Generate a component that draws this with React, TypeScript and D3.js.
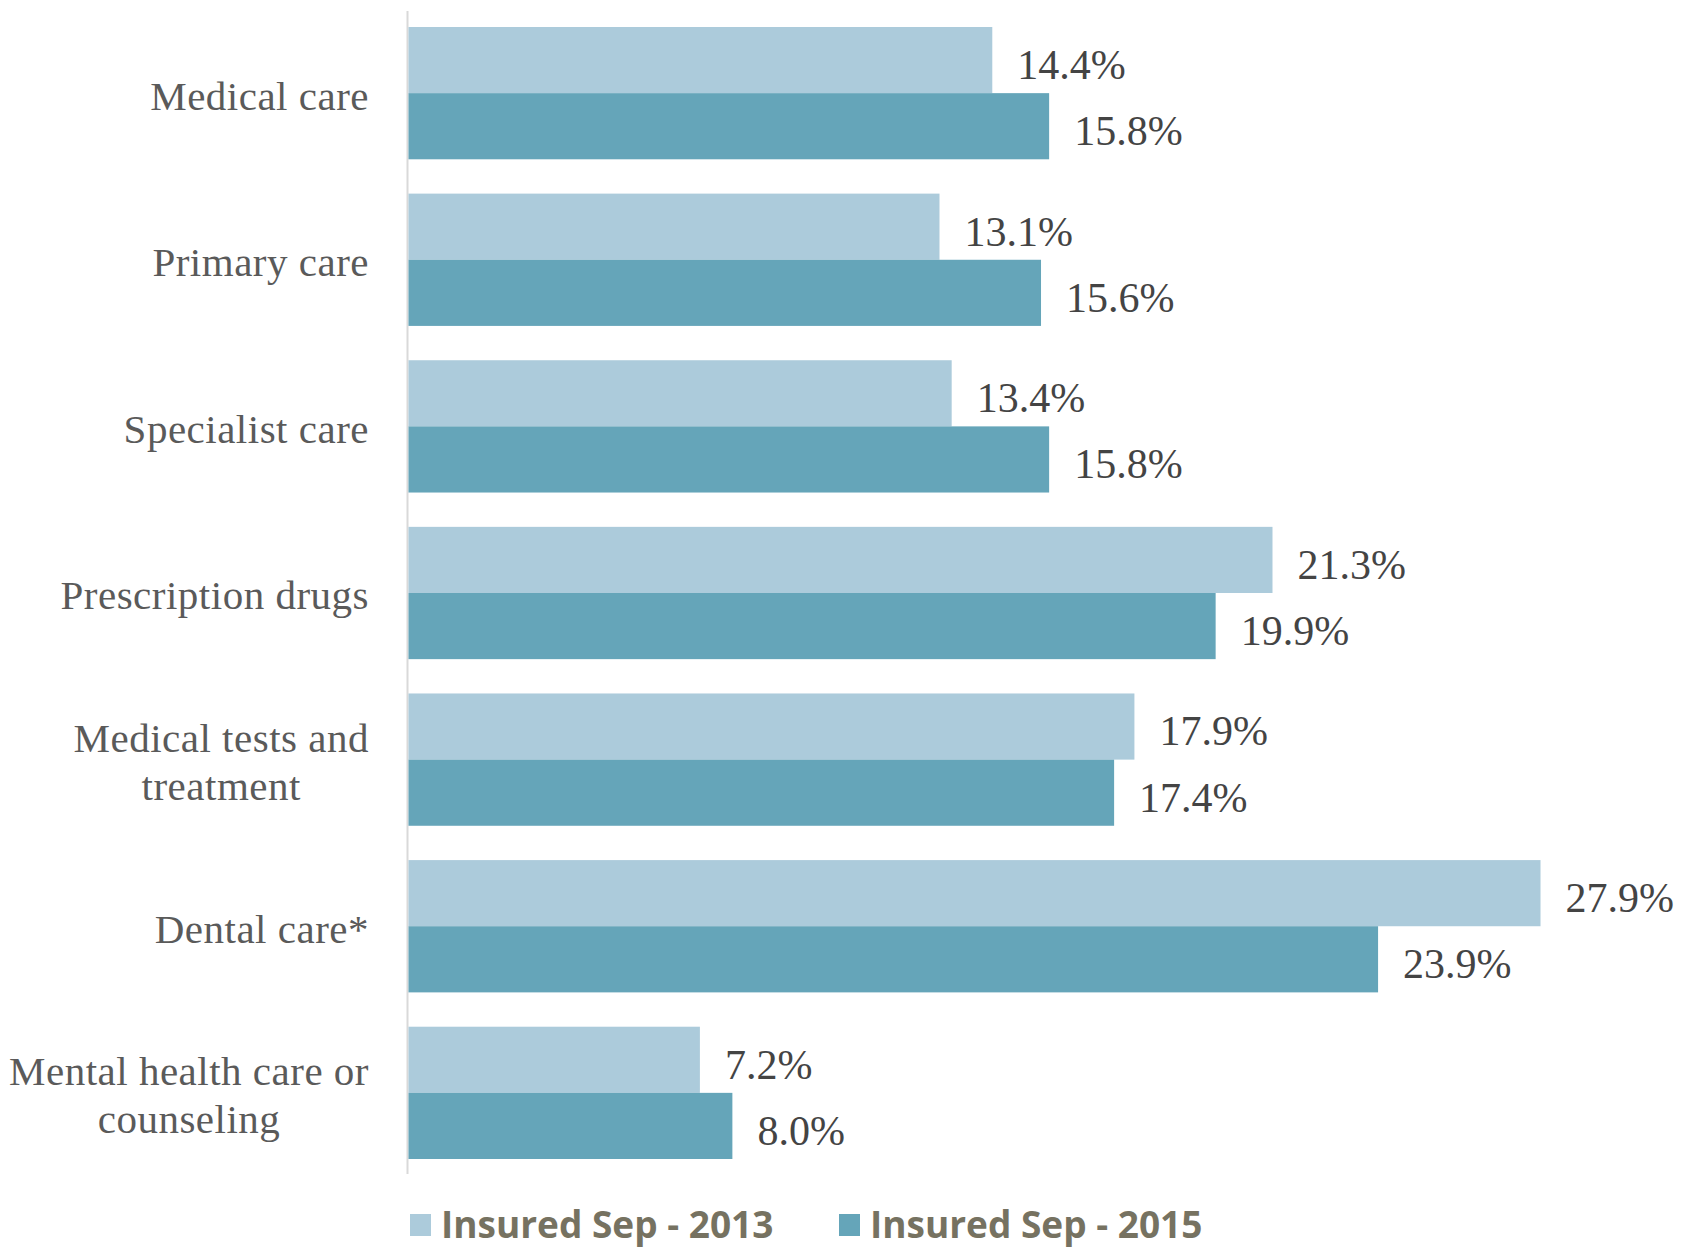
import React from "react";
import { scaleBand, scaleLinear } from "d3";

const categories = [
  ["Medical care"],
  ["Primary care"],
  ["Specialist care"],
  ["Prescription drugs"],
  ["Medical tests and", "treatment"],
  ["Dental care*"],
  ["Mental health care or", "counseling"],
];
const insured2013 = [14.4, 13.1, 13.4, 21.3, 17.9, 27.9, 7.2];
const insured2015 = [15.8, 15.6, 15.8, 19.9, 17.4, 23.9, 8.0];
const seriesNames = ["Insured Sep - 2013", "Insured Sep - 2015"];
const colors = ["#accbdb", "#65a5b9"];

const W = 1686;
const H = 1256;
const serif = "'Liberation Serif', 'Times New Roman', serif";

export default function App() {
  const keys = categories.map((c) => c.join(" "));
  const y = scaleBand<string>()
    .domain(keys)
    .range([27, 1159])
    .paddingInner(0.206)
    .paddingOuter(0);
  const sub = scaleBand<number>()
    .domain([0, 1])
    .range([0, y.bandwidth()]);
  const x = scaleLinear().domain([0, 30]).range([407.5, 407.5 + 40.61 * 30]);
  const series = [insured2013, insured2015];

  return (
    <svg
      width={W}
      height={H}
      style={{ position: "absolute", left: 0, top: 0, background: "#fff" }}
    >
      <line x1={x(0)} x2={x(0)} y1={11} y2={1174} stroke="#d9d9d9" strokeWidth={2} />
      {keys.map((k, i) => {
        const y0 = y(k) as number;
        const cy = y0 + y.bandwidth() / 2;
        const lines = categories[i];
        return (
          <g key={k}>
            {series.map((vals, s) => (
              <g key={s}>
                <rect
                  x={x(0) + 1}
                  y={y0 + (sub(s) as number)}
                  width={x(vals[i]) - x(0) - 1}
                  height={sub.bandwidth()}
                  fill={colors[s]}
                />
                <text
                  x={x(vals[i]) + 25}
                  y={y0 + (sub(s) as number) + sub.bandwidth() / 2}
                  dy="0.45em"
                  fontFamily={serif}
                  fontSize={42}
                  fill="#444"
                >
                  {vals[i].toFixed(1)}%
                </text>
              </g>
            ))}
            {lines.length === 1 ? (
              <text
                x={369}
                y={cy}
                dy="0.4em"
                textAnchor="end"
                fontFamily={serif}
                fontSize={41}
                letterSpacing={0.5}
                fill="#5a5a5a"
              >
                {lines[0]}
              </text>
            ) : (
              <MultiLabel lines={lines} cy={cy} right={369} />
            )}
          </g>
        );
      })}
      {seriesNames.map((name, s) => {
        const lx = s === 0 ? 410 : 839;
        return (
          <g key={name}>
            <rect x={lx} y={1214} width={21} height={22} fill={colors[s]} />
            <text
              x={lx + 31}
              y={1238}
              fontFamily="'Open Sans', sans-serif"
              fontWeight={700}
              fontSize={37}
              fill="#767261"
            >
              {name}
            </text>
          </g>
        );
      })}
    </svg>
  );
}

function MultiLabel({ lines, cy, right }: { lines: string[]; cy: number; right: number }) {
  const ref = React.useRef<SVGGElement>(null);
  const [w, setW] = React.useState(0);
  React.useLayoutEffect(() => {
    if (!ref.current) return;
    const bb = ref.current.getBBox();
    setW(bb.width);
  }, []);
  const cx = right - w / 2;
  return (
    <g ref={ref}>
      {lines.map((t, j) => (
        <text
          key={t}
          x={w ? cx : right}
          y={cy + (j - (lines.length - 1) / 2) * 48}
          dy="0.4em"
          textAnchor={w ? "middle" : "end"}
          fontFamily={serif}
          fontSize={41}
          letterSpacing={0.5}
          fill="#5a5a5a"
        >
          {t}
        </text>
      ))}
    </g>
  );
}
